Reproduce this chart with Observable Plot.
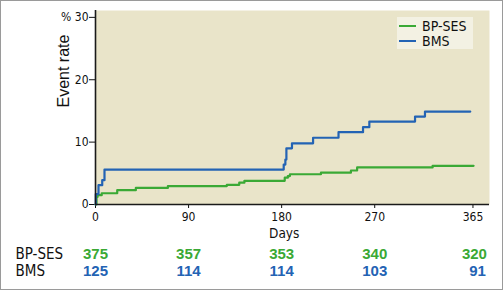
<!DOCTYPE html>
<html>
<head>
<meta charset="utf-8">
<script src="https://cdn.jsdelivr.net/npm/d3@7"></script>
<script src="https://cdn.jsdelivr.net/npm/@observablehq/plot@0.6"></script>
<style>
  html, body { margin: 0; padding: 0; background: #fff; }
  #wrap { position: relative; width: 503px; height: 290px; overflow: hidden; }
  #wrap svg { position: absolute; left: 0; top: 0; }
  #border { position: absolute; inset: 0; border: 1px solid #9a9a9a; box-sizing: border-box; pointer-events: none; }
  #legend { position: absolute; left: 397px; top: 17px; width: 76px; height: 32px; background: #f3f1e3;
            font-family: "Liberation Sans Narrow", "Arial Narrow", "DejaVu Sans Condensed", sans-serif;
            font-size: 14px; color: #111; white-space: nowrap; }
  #legend .item { position: absolute; left: 2px; height: 14px; line-height: 14px; display: flex; align-items: center; }
  #legend .sw { width: 17px; height: 2px; margin-right: 6px; flex: none; }
</style>
</head>
<body>
<div id="wrap"></div>
<script>
const green = "#3aa935";
const blue = "#2363b4";

// Kaplan-Meier style cumulative event rate (%)
const sesDays = [0, 1, 2, 6, 21, 39, 70, 127, 139, 144, 183, 186, 188, 218, 247, 253, 326, 365.6];
const sesRate = [0, 1.2, 1.5, 1.8, 2.3, 2.65, 2.95, 3.15, 3.5, 3.8, 4.3, 4.55, 4.85, 5.1, 5.45, 5.95, 6.2, 6.2];
const bmsDays = [0, 0.3, 2.9, 6.5, 8.7, 182, 183.6, 184.6, 190, 210.4, 235, 258.7, 264.8, 309, 318.6, 362.4];
const bmsRate = [0, 1.67, 3.1, 3.9, 5.6, 6.4, 7.2, 9.0, 9.8, 10.7, 11.6, 12.4, 13.3, 14.1, 14.9, 14.9];

const xTicks = [0, 90, 180, 270, 365];
const yTicks = [0, 10, 20, 30];

// Number at risk
const riskDays = [0, 90, 180, 270, 365];
const sesRisk = [375, 357, 353, 340, 320];
const bmsRisk = [125, 114, 114, 103, 91];
const groups = ["BP-SES", "BMS"];

const ses = sesDays.map((d, i) => ({day: d, rate: sesRate[i]}));
const bms = bmsDays.map((d, i) => ({day: d, rate: bmsRate[i]}));
const sesTable = riskDays.map((d, i) => ({day: d, n: sesRisk[i]}));
const bmsTable = riskDays.map((d, i) => ({day: d, n: bmsRisk[i]}));
const lastDay = riskDays[riskDays.length - 1];
const notLast = d => d.day !== lastDay;
const isLast = d => d.day === lastDay;

const narrow = "'Liberation Sans Narrow', 'Arial Narrow', 'DejaVu Sans Condensed', sans-serif";
const sans = "'Liberation Sans', Arial, sans-serif";

const row1 = 54, row2 = 71.5;

const tableText = (data, color, dy, filter, anchor, dx) =>
  Plot.text(data, {filter, x: "day", text: "n", frameAnchor: "bottom", dy, dx, textAnchor: anchor,
    fill: color, fontWeight: "bold", fontSize: 15, fontFamily: sans});

const plot = Plot.plot({
  width: 503,
  height: 290,
  marginLeft: 95,
  marginRight: 14,
  marginTop: 10,
  marginBottom: 86,
  style: {background: "transparent", fontFamily: narrow, fontSize: "12px", color: "#111", overflow: "visible"},
  x: {domain: [0, 381], ticks: xTicks, tickSize: 4, tickPadding: 4, label: null},
  y: {domain: [0, 31.1], ticks: yTicks, tickSize: 6, tickPadding: 1, label: null,
      tickFormat: d => d === 30 ? "% 30" : String(d)},
  marks: [
    Plot.frame({fill: "#e9e4c9", stroke: null}),
    Plot.line(ses, {x: "day", y: "rate", curve: "step-after", stroke: green, strokeWidth: 2.2}),
    Plot.line(bms, {x: "day", y: "rate", curve: "step-after", stroke: blue, strokeWidth: 2.2}),
    Plot.ruleX([0], {stroke: "#1a1a1a", strokeWidth: 1.6}),
    Plot.ruleY([0], {stroke: "#1a1a1a", strokeWidth: 1.6}),
    Plot.text(["Event rate"], {frameAnchor: "left", dx: -32, rotate: -90, fontSize: 16, fontFamily: sans, fill: "#111"}),
    Plot.text(["Days"], {x: [d3.mean([xTicks[0], lastDay])], text: d => d, frameAnchor: "bottom", dy: 33,
      fontSize: 13.5, fontFamily: narrow, fill: "#111"}),
    Plot.text([groups[0]], {frameAnchor: "bottom-left", dx: -80, dy: row1, textAnchor: "start", fontSize: 15, fontFamily: narrow, fill: "#111"}),
    Plot.text([groups[1]], {frameAnchor: "bottom-left", dx: -80, dy: row2, textAnchor: "start", fontSize: 15, fontFamily: narrow, fill: "#111"}),
    tableText(sesTable, green, row1, notLast, "middle", 0),
    tableText(sesTable, green, row1, isLast, "end", 14),
    tableText(bmsTable, blue, row2, notLast, "middle", 0),
    tableText(bmsTable, blue, row2, isLast, "end", 13)
  ]
});

d3.select(plot).selectAll("g[aria-label^='x-axis'] line, g[aria-label^='y-axis'] line").attr("stroke", "#444");

const wrap = document.getElementById("wrap");
wrap.appendChild(plot);

const legend = document.createElement("div");
legend.id = "legend";
legend.innerHTML =
  `<div class="item" style="top:2px"><span class="sw" style="background:${green}"></span>${groups[0]}</div>` +
  `<div class="item" style="top:17px"><span class="sw" style="background:${blue}"></span>${groups[1]}</div>`;
wrap.appendChild(legend);

const border = document.createElement("div");
border.id = "border";
wrap.appendChild(border);
</script>
</body>
</html>
